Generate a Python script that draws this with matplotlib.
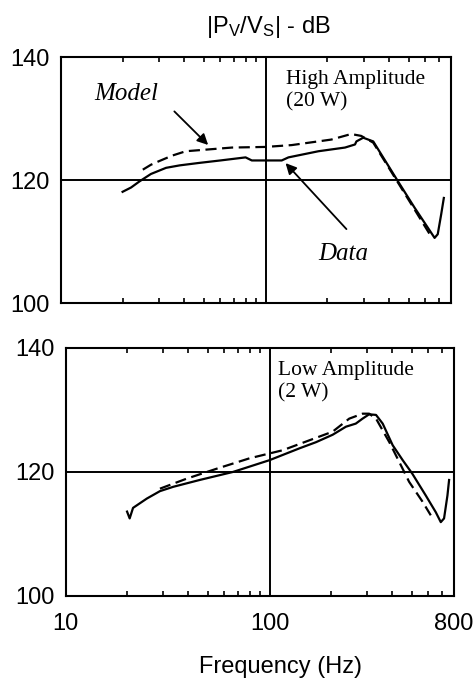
import numpy as np
import matplotlib.pyplot as plt
from matplotlib.ticker import LogLocator, NullFormatter, FixedLocator

plt.rcParams['font.family'] = ['Liberation Sans', 'DejaVu Sans']
plt.rcParams['mathtext.default'] = 'regular'

# high amplitude (20 W)
hi_data_f = [20, 22, 24.2, 27.5, 32.6, 38, 47.3, 60, 79.7, 85.5, 119.6, 129, 180.8, 243.7, 272.6,
             277, 299, 334.6, 442, 533, 667, 691, 718, 740]
hi_data_db = [118.1, 118.8, 119.8, 121.0, 122.0, 122.4, 122.8, 123.2, 123.7, 123.2, 123.2, 123.7,
              124.7, 125.3, 125.8, 126.3, 126.9, 126.3, 119.8, 115.5, 110.6, 111.2, 114.4, 117.1]
hi_model_f = [25.1, 27.5, 30.2, 35, 40.7, 68.4, 99.6, 133.8, 209, 261, 292, 334.6, 442, 533, 637]
hi_model_db = [121.7, 122.5, 123.1, 124.0, 124.7, 125.3, 125.4, 125.7, 126.6, 127.5, 127.2, 126.1,
               119.6, 115.2, 111.0]

# low amplitude (2 W)
lo_data_f = [20, 20.6, 21.4, 25, 29.0, 33.7, 45.4, 66.2, 100, 140, 169, 204, 237, 265, 286, 308,
             333, 359, 402, 450, 502, 584, 654, 692, 718, 746, 760]
lo_data_db = [113.6, 112.5, 114.2, 115.7, 116.9, 117.6, 118.7, 120.0, 121.9, 123.8, 124.8, 126.0,
              127.3, 127.8, 128.6, 129.3, 129.2, 127.8, 124.3, 121.9, 119.7, 116.2, 113.5, 111.9,
              112.5, 116.2, 118.7]
lo_model_f = [29, 39.1, 54.8, 79.8, 116, 204, 246, 286, 308, 333, 387, 433, 484, 563, 618]
lo_model_db = [117.3, 118.9, 120.5, 122.2, 123.5, 126.5, 128.6, 129.4, 129.4, 128.6, 124.8, 121.6,
               118.4, 115.2, 113.0]

fig = plt.figure(figsize=(4.76, 6.81), dpi=100)
ax1 = fig.add_axes([0.128, 0.555, 0.819, 0.361])
ax2 = fig.add_axes([0.138, 0.125, 0.815, 0.364])

serif = ['Liberation Serif', 'DejaVu Serif']

for ax, df, dd, mf, md in [(ax1, hi_data_f, hi_data_db, hi_model_f, hi_model_db),
                           (ax2, lo_data_f, lo_data_db, lo_model_f, lo_model_db)]:
    ax.set_xscale('log')
    ax.set_xlim(10, 800)
    ax.set_ylim(100, 140)
    ax.axhline(120, color='black', lw=1.4)
    ax.axvline(100, color='black', lw=1.4)
    ax.plot(df, dd, color='black', lw=1.6)
    ax.plot(mf, md, color='black', lw=1.6, linestyle=(0, (5, 2.5)))
    ax.set_yticks([100, 120, 140])
    ax.xaxis.set_major_locator(FixedLocator([10, 100, 800]))
    ax.xaxis.set_minor_locator(FixedLocator([20, 30, 40, 50, 60, 70, 80, 90,
                                             200, 300, 400, 500, 600, 700]))
    ax.xaxis.set_minor_formatter(NullFormatter())
    ax.tick_params(axis='x', which='both', direction='in', top=True, bottom=True)
    ax.tick_params(axis='x', which='major', length=0)
    ax.tick_params(axis='x', which='minor', length=3.5, width=1.2)
    ax.tick_params(axis='y', length=0, labelsize=17, pad=8)
    for s in ax.spines.values():
        s.set_linewidth(1.5)

ax1.set_xticklabels([])
ax2.set_xticklabels(['10', '100', '800'])
ax2.tick_params(axis='x', which='major', labelsize=17, pad=12)

ax1.text(125, 137.9, 'High Amplitude\n(20 W)', fontsize=15.5, family=serif, va='top',
         linespacing=1.25)
ax2.text(110, 137.9, 'Low Amplitude\n(2 W)', fontsize=15.5, family=serif, va='top',
         linespacing=1.25)

ax1.text(14.5, 134.0, 'Model', fontsize=18, family=serif, style='italic', va='center')
ax1.text(181, 108.0, 'Data', fontsize=18, family=serif, style='italic', va='center')
ax1.annotate('', xy=(53.5, 125.4), xytext=(35.0, 131.5),
             arrowprops=dict(arrowstyle='-|>', color='black', lw=1.3, mutation_scale=16))
ax1.annotate('', xy=(122.3, 123.1), xytext=(252.9, 111.7),
             arrowprops=dict(arrowstyle='-|>', color='black', lw=1.3, mutation_scale=16))

fig.text(0.563, 0.961, '|P$_V$/V$_S$| - dB', fontsize=17, ha='center', va='center')
fig.text(0.59, 0.02, 'Frequency (Hz)', fontsize=17, ha='center', va='center')

fig.savefig('out.png', dpi=100)
